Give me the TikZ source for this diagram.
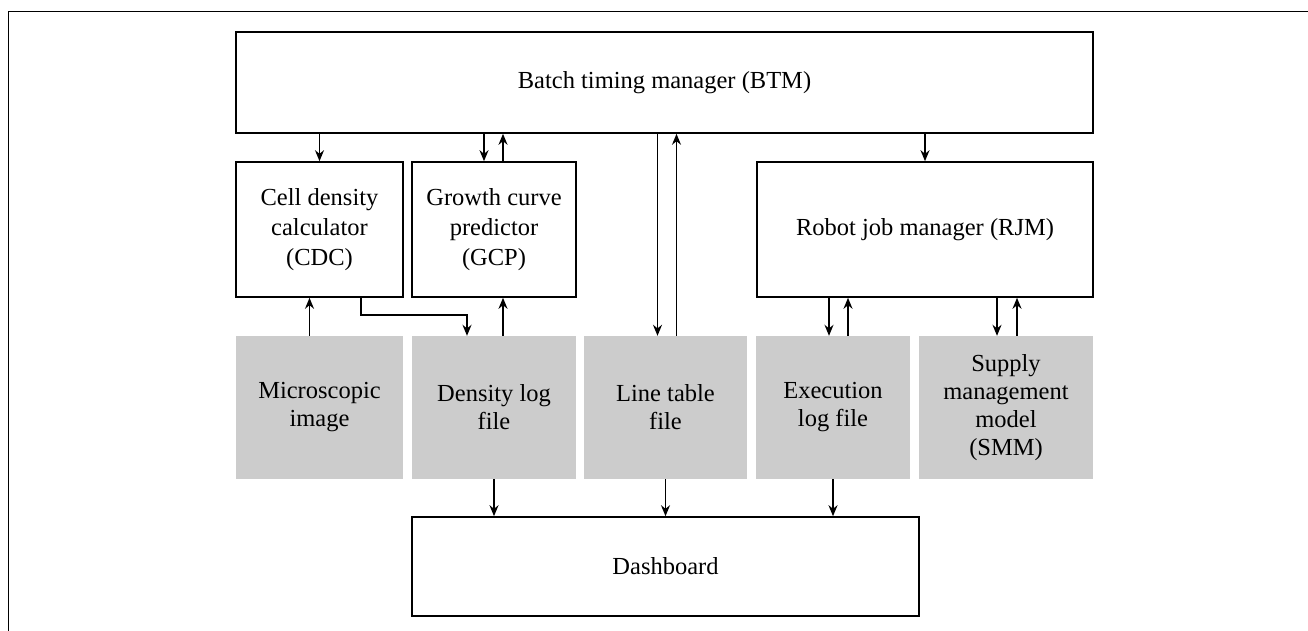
\documentclass[tikz,border=0pt]{standalone}
\usepackage{fontspec}
\setmainfont{Liberation Serif}
\usetikzlibrary{arrows.meta}
\tikzset{
  modbox/.style={draw, line width=1.6pt, inner sep=0pt, align=center,
    font=\fontsize{24.5}{30}\selectfont},
  filebox/.style={fill=black!20, inner sep=0pt, align=center,
    minimum height=143pt, font=\fontsize{24.5}{28}\selectfont},
  arr/.style={-{Stealth[length=11pt,width=9pt]}, line width=1.6pt}
}
\begin{document}
\begin{tikzpicture}[x=1pt,y=-1pt]
    \useasboundingbox (0,0) rectangle (1308,631);

    % cornice
    \draw[line width=1.3pt] (1308,11.5) -- (8.5,11.5) -- (8.5,631);

    % moduli
    \node[modbox, minimum width=857pt, minimum height=101pt] (btm) at (664.5,82.5) {Batch timing manager (BTM)};
    \node[modbox, minimum width=167pt, minimum height=135pt] (cdc) at (319.5,229.5) {Cell density\\calculator\\(CDC)};
    \node[modbox, minimum width=164pt, minimum height=135pt] (gcp) at (494,229.5) {Growth curve\\predictor\\(GCP)};
    \node[modbox, minimum width=336pt, minimum height=135pt] (rjm) at (925,229.5) {Robot job manager (RJM)};

    % file
    \node[filebox, minimum width=167pt] (mic) at (319.5,407.5) {Microscopic\\image};
    \node[filebox, minimum width=164pt] (dlog) at (494,407.5) {Density log\\file};
    \node[filebox, minimum width=163pt] (ltab) at (665.5,407.5) {Line table\\file};
    \node[filebox, minimum width=154pt] (exe) at (833,407.5) {Execution\\log file};
    \node[filebox, minimum width=174pt] (smm) at (1006,407.5) {Supply\\management\\model\\(SMM)};

    % dashboard
    \node[modbox, minimum width=507pt, minimum height=99pt] (dash) at (665.5,566.5) {Dashboard};

    % frecce BTM
    \draw[arr] (btm.south -| cdc) -- (cdc.north);
    \draw[arr] ([xshift=-10pt]gcp.north |- btm.south) -- ([xshift=-10pt]gcp.north);
    \draw[arr] ([xshift=9pt]gcp.north) -- ([xshift=9pt]gcp.north |- btm.south);
    \draw[arr] ([xshift=-8pt]ltab.north |- btm.south) -- ([xshift=-8pt]ltab.north);
    \draw[arr] ([xshift=11pt]ltab.north) -- ([xshift=11pt]ltab.north |- btm.south);
    \draw[arr] (btm.south -| rjm) -- (rjm.north);

    % frecce moduli/file
    \draw[arr] ([xshift=-10pt]mic.north) -- ([xshift=-10pt]cdc.south);
    \draw[arr] ([xshift=41.5pt]cdc.south) -- ++(0,17) -| ([xshift=-27pt]dlog.north);
    \draw[arr] ([xshift=9pt]dlog.north) -- ([xshift=9pt]gcp.south);
    \draw[arr] ([xshift=-4pt]exe.north |- rjm.south) -- ([xshift=-4pt]exe.north);
    \draw[arr] ([xshift=15pt]exe.north) -- ([xshift=15pt]exe.north |- rjm.south);
    \draw[arr] ([xshift=-9pt]smm.north |- rjm.south) -- ([xshift=-9pt]smm.north);
    \draw[arr] ([xshift=11pt]smm.north) -- ([xshift=11pt]smm.north |- rjm.south);

    % frecce dashboard
    \draw[arr] (dlog.south) -- (dlog.south |- dash.north);
    \draw[arr] (ltab.south) -- (ltab.south |- dash.north);
    \draw[arr] (exe.south) -- (exe.south |- dash.north);
\end{tikzpicture}
\end{document}
